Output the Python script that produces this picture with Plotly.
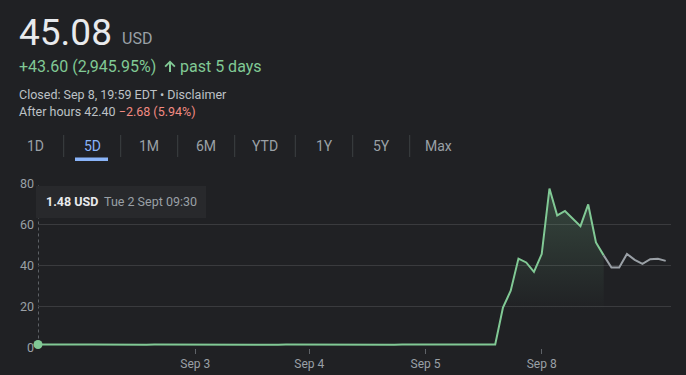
import plotly.graph_objects as go

W, H = 686, 375

# ---------------- data ----------------
# regular-session prices (30-min steps), Sep 2 09:30 -> Sep 8 close
regular_prices = [
    1.48, 1.52, 1.45, 1.40, 1.38, 1.42, 1.45, 1.41, 1.36, 1.39,
    1.43, 1.40, 1.37, 1.35, 1.38, 1.42, 1.40, 1.36, 1.33, 1.37,
    1.41, 1.44, 1.40, 1.36, 1.34, 1.38, 1.42, 1.45, 1.41, 1.38,
    1.36, 1.39, 1.43, 1.40, 1.37, 1.35, 1.38, 1.41, 1.44, 1.40,
    1.37, 1.39, 1.42, 1.45, 1.43, 1.40, 1.38, 1.41, 1.44, 1.46,
    1.43, 1.41, 1.44, 1.47, 1.45, 1.42, 1.44, 1.47, 1.49, 1.50,
    19.5, 27.8, 43.5, 41.6, 37.0, 45.7, 77.8, 64.6, 66.8, 63.0,
    59.4, 70.0, 51.4, 45.08,
]
# after-hours prices, starting from the close
after_hours_prices = [45.08, 39.1, 39.1, 45.8, 42.9, 40.9, 43.2, 43.4, 42.4]

tick_positions = [20.3, 35, 50, 65]
tick_labels = ["Sep 3", "Sep 4", "Sep 5", "Sep 8"]
y_ticks = [0, 20, 40, 60, 80]

tabs = ["1D", "5D", "1M", "6M", "YTD", "1Y", "5Y", "Max"]
selected_tab = "5D"

price_text = "45.08"
currency = "USD"
change_text = "+43.60 (2,945.95%)"
period_text = "past 5 days"
closed_text = "Closed: Sep 8, 19:59 EDT • Disclaimer"
after_label = "After hours 42.40 "
after_change = "−2.68 (5.94%)"
tooltip_value = "1.48 USD"
tooltip_time = "Tue 2 Sept 09:30"

# ---------------- styles ----------------
BG = "#202124"
GREEN = "#81c995"
GREY_LINE = "#9aa0a6"
GRID = "#3a3b3e"
SEP = "#3c4043"
TXT = "#e8eaed"
SUB = "#9aa0a6"
SUB2 = "#bdc1c6"
RED = "#f28b82"
BLUE = "#8ab4f8"
FONT = "Roboto, Arial, sans-serif"

x_reg = list(range(len(regular_prices)))
start_ah = len(regular_prices) - 1
x_ah = [start_ah + i for i in range(len(after_hours_prices))]


def PX(px):
    return px / W


def PY(py):
    return 1 - py / H


fig = go.Figure()

fig.add_trace(go.Scatter(
    x=x_reg, y=regular_prices, mode="lines",
    line=dict(color=GREEN, width=2),
    fill="tozeroy",
    fillgradient=dict(type="vertical", start=18, stop=80,
                      colorscale=[[0, "rgba(129,201,149,0)"],
                                  [1, "rgba(129,201,149,0.24)"]]),
    hoverinfo="skip", showlegend=False,
))
fig.add_trace(go.Scatter(
    x=x_ah, y=after_hours_prices, mode="lines",
    line=dict(color=GREY_LINE, width=2),
    hoverinfo="skip", showlegend=False,
))
fig.add_trace(go.Scatter(
    x=[x_reg[0]], y=[regular_prices[0]], mode="markers",
    marker=dict(color=GREEN, size=9),
    cliponaxis=False, hoverinfo="skip", showlegend=False,
))

x_left_px, x_right_px = 38, 671
last_px = 665.7
n = x_ah[-1]
px_per = (last_px - x_left_px) / n
x_max = n + (x_right_px - last_px) / px_per

fig.update_layout(
    width=W, height=H, autosize=False,
    margin=dict(l=0, r=0, t=0, b=0, pad=0, autoexpand=False),
    showlegend=False,
    paper_bgcolor=BG, plot_bgcolor=BG,
    font=dict(family=FONT, color=SUB),
    xaxis=dict(
        domain=[PX(x_left_px), PX(x_right_px)], automargin=False,
        range=[0, x_max], showgrid=False, zeroline=False, showline=False,
        tickvals=tick_positions, ticktext=tick_labels,
        ticks="outside", ticklen=5, tickcolor="#5f6368", tickwidth=1,
        tickfont=dict(size=12, color=SUB, family=FONT),
    ),
    yaxis=dict(
        domain=[PY(347.5), PY(184)], automargin=False,
        range=[0, 80], tickvals=y_ticks,
        showgrid=True, gridcolor=GRID, gridwidth=1,
        zeroline=False, showline=False, ticks="",
        tickfont=dict(size=12.5, color=SUB, family=FONT),
        ticklabelstandoff=3,
    ),
)

shapes = []
# dotted crosshair line at the hovered point
shapes.append(dict(type="line", xref="x", yref="y",
                   x0=0, x1=0, y0=regular_prices[0], y1=80,
                   line=dict(color="#9aa0a6", width=1, dash="dot"), layer="below"))
# tooltip box
shapes.append(dict(type="rect", xref="paper", yref="paper",
                   x0=PX(36), x1=PX(206), y0=PY(218), y1=PY(186),
                   fillcolor="#28292c", line=dict(width=0), layer="above"))

# tab separators
for sx in [63.7, 120.7, 177.7, 234.7, 295.3, 352.7, 409.7]:
    shapes.append(dict(type="line", xref="paper", yref="paper",
                       x0=PX(sx), x1=PX(sx), y0=PY(135), y1=PY(157),
                       line=dict(color=SEP, width=1)))
# selected tab underline
shapes.append(dict(type="rect", xref="paper", yref="paper",
                   x0=PX(75), x1=PX(108), y0=PY(161), y1=PY(157.5),
                   fillcolor=BLUE, line=dict(width=0)))
# up arrow icon
ax0, ay0 = 170, 60.5
arrow_pts = [(ax0, ay0), (ax0 + 5.5, ay0 + 5.5), (ax0 + 4.2, ay0 + 6.8),
             (ax0 + 1, ay0 + 3.6), (ax0 + 1, ay0 + 11.5), (ax0 - 1, ay0 + 11.5),
             (ax0 - 1, ay0 + 3.6), (ax0 - 4.2, ay0 + 6.8), (ax0 - 5.5, ay0 + 5.5)]
path = "M " + " L ".join(f"{PX(a):.5f},{PY(b):.5f}" for a, b in arrow_pts) + " Z"
shapes.append(dict(type="path", xref="paper", yref="paper", path=path,
                   fillcolor=GREEN, line=dict(width=0)))

fig.update_layout(shapes=shapes)

ann = []


def text(t, x, y, size, color, anchor="left", bold=False):
    if bold:
        t = f"<b>{t}</b>"
    ann.append(dict(text=t, x=PX(x), y=PY(y), xref="paper", yref="paper",
                    xanchor=anchor, yanchor="middle", showarrow=False,
                    font=dict(size=size, color=color, family=FONT)))


text(price_text, 17, 33, 37, TXT)
text(currency, 120, 39, 16, SUB)
text(change_text, 17, 67, 16, GREEN)
text(period_text, 178, 67, 16, GREEN)
text(closed_text, 17, 94.5, 12.5, SUB2)
ann.append(dict(text=f"{after_label}<span style='color:{RED}'>{after_change}</span>",
                x=PX(17), y=PY(111.5), xref="paper", yref="paper",
                xanchor="left", yanchor="middle", showarrow=False,
                font=dict(size=12.5, color=SUB2, family=FONT)))

tab_centers = [35, 92, 149, 206, 265, 324, 381, 439]
for t, cx in zip(tabs, tab_centers):
    text(t, cx, 146, 14, BLUE if t == selected_tab else SUB, anchor="center")

text(tooltip_value, 44, 202, 12.5, TXT, bold=True)
text(tooltip_time, 102, 202, 12.5, SUB)

fig.update_layout(annotations=ann)

fig.write_html(
    "out.html",
    config={"displayModeBar": False},
    post_script="document.body.style.margin='0';document.body.style.background='#202124';document.body.style.overflow='hidden';",
)
